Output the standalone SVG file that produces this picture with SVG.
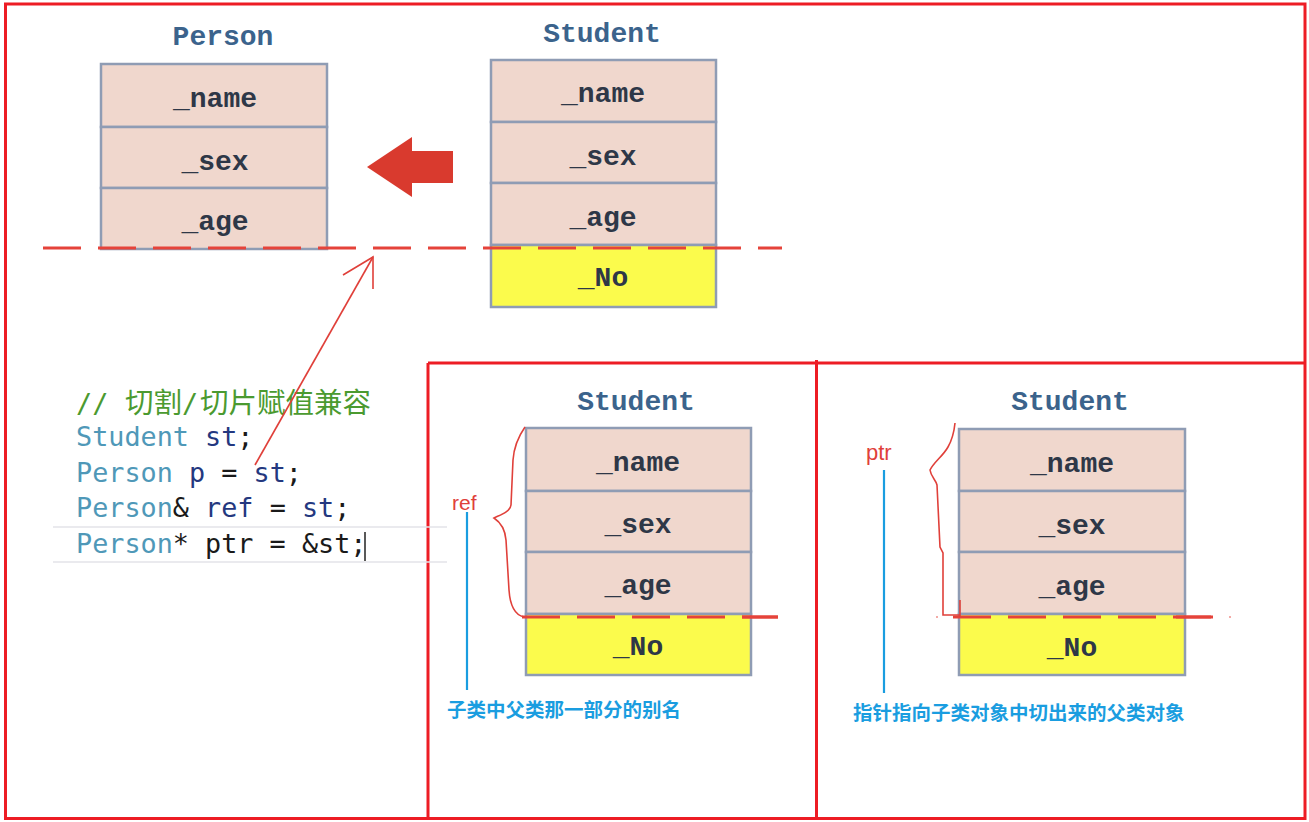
<svg xmlns="http://www.w3.org/2000/svg" width="1309" height="822" viewBox="0 0 1309 822">
<style>
.frame{fill:none;stroke:#ed1c24;stroke-width:3}
.cell{fill:#f0d7cd;stroke:#8f9cb4;stroke-width:2.5}
.extra{fill:#fbfb4c;stroke:#8f9cb4;stroke-width:2.5}
.fld{font-family:"Liberation Mono",monospace;font-weight:bold;font-size:28px;fill:#2e3747;text-anchor:middle}
.ttl{font-family:"Liberation Mono",monospace;font-weight:bold;font-size:28px;fill:#3b638c;text-anchor:middle}
.cut{fill:none;stroke:#e5433a;stroke-width:3;stroke-dasharray:38 17}
.code{font-family:"DejaVu Sans Mono",monospace;font-size:26.8px;fill:#1a1a1a}
.ty{fill:#4f98b8}
.var{fill:#24387f}
.cm{fill:#4b9a30}
.cjk{font-family:"Noto Sans CJK SC",sans-serif}
.hand{fill:none;stroke:#e0403a;stroke-width:1.6}
.blue{stroke:#1a9de0;stroke-width:2.2}
.note{font-family:"Noto Sans CJK SC",sans-serif;font-weight:bold;font-size:19.5px;fill:#1a9de0}
.lbl{font-family:"Liberation Sans","Noto Sans",sans-serif;fill:#e0403a}
</style>
<rect width="1309" height="822" fill="#ffffff"/>

<g id="frames">
<rect class="frame" x="5.5" y="4" width="1299.5" height="814.5"/>
<line class="frame" x1="428" y1="363" x2="1305" y2="363"/>
<line class="frame" x1="428" y1="363" x2="428" y2="818.5"/>
<line class="frame" x1="816.5" y1="360" x2="816.5" y2="818.5"/>
</g>

<g id="person">
<text class="ttl" x="223" y="45">Person</text>
<rect class="cell" x="101" y="64" width="226" height="63"/>
<rect class="cell" x="101" y="127" width="226" height="61"/>
<rect class="cell" x="101" y="188" width="226" height="61"/>
<text class="fld" x="215" y="107">_name</text>
<text class="fld" x="215" y="170">_sex</text>
<text class="fld" x="215" y="230">_age</text>
</g>

<g id="student-top">
<text class="ttl" x="602" y="42">Student</text>
<rect class="cell" x="491" y="60" width="225" height="62"/>
<rect class="cell" x="491" y="122" width="225" height="61"/>
<rect class="cell" x="491" y="183" width="225" height="62"/>
<rect class="extra" x="491" y="245" width="225" height="62"/>
<text class="fld" x="603" y="102">_name</text>
<text class="fld" x="603" y="165">_sex</text>
<text class="fld" x="603" y="226">_age</text>
<text class="fld" x="603" y="286">_No</text>
</g>

<g id="student-ref">
<text class="ttl" x="636" y="410">Student</text>
<rect class="cell" x="526" y="428" width="225" height="63"/>
<rect class="cell" x="526" y="491" width="225" height="61"/>
<rect class="cell" x="526" y="552" width="225" height="62"/>
<rect class="extra" x="526" y="614" width="225" height="61"/>
<text class="fld" x="638" y="471">_name</text>
<text class="fld" x="638" y="533">_sex</text>
<text class="fld" x="638" y="594">_age</text>
<text class="fld" x="638" y="655">_No</text>
</g>

<g id="student-ptr">
<text class="ttl" x="1070" y="410">Student</text>
<rect class="cell" x="959" y="429" width="226" height="62"/>
<rect class="cell" x="959" y="491" width="226" height="61"/>
<rect class="cell" x="959" y="552" width="226" height="62"/>
<rect class="extra" x="959" y="614" width="226" height="61"/>
<text class="fld" x="1072" y="472">_name</text>
<text class="fld" x="1072" y="534">_sex</text>
<text class="fld" x="1072" y="595">_age</text>
<text class="fld" x="1072" y="656">_No</text>
</g>

<g id="code">
<line x1="53" y1="527" x2="447" y2="527" stroke="#e3e3e8" stroke-width="1.5"/>
<line x1="53" y1="562" x2="447" y2="562" stroke="#e3e3e8" stroke-width="1.5"/>
<text class="code cm" x="76" y="413">//<tspan class="cjk" x="125" font-size="28.5">切割</tspan><tspan x="182">/</tspan><tspan class="cjk" x="200" font-size="28.5">切片赋值兼容</tspan></text>
<text class="code" x="76" y="446"><tspan class="ty">Student</tspan> <tspan class="var">st</tspan>;</text>
<text class="code" x="76" y="482"><tspan class="ty">Person</tspan> <tspan class="var">p</tspan> = <tspan class="var">st</tspan>;</text>
<text class="code" x="76" y="517"><tspan class="ty">Person</tspan>&amp; <tspan class="var">ref</tspan> = <tspan class="var">st</tspan>;</text>
<text class="code" x="76" y="553"><tspan class="ty">Person</tspan>* ptr = &amp;st;</text>
<line x1="365" y1="532" x2="365" y2="561" stroke="#222" stroke-width="1.5"/>
</g>

<g id="connectors">
<polygon points="367,167 412,137 412,151 453,151 453,183 412,183 412,197" fill="#d93a2e"/>
<line class="cut" x1="43" y1="248" x2="782" y2="248"/>
<line class="cut" x1="522" y1="617" x2="778" y2="617" stroke-dasharray="37 18"/>
<line class="cut" x1="953" y1="617" x2="1213" y2="617" stroke-dasharray="39 16"/>
<line x1="1176" y1="617" x2="1213" y2="617" stroke="#e5433a" stroke-width="3"/>
<line x1="742" y1="617" x2="778" y2="617" stroke="#e5433a" stroke-width="3"/>
<circle cx="937" cy="617" r="1" fill="#e5433a" opacity="0.6"/>
<circle cx="1230" cy="617" r="1" fill="#e5433a" opacity="0.6"/>
<polyline class="hand" points="255,465 373,257"/>
<polyline class="hand" points="343,275 373,257 373,289"/>
<path class="hand" d="M525,427 C518,437 514,446 513,460 L511,505 C510,512 500,515 494,518 C500,522 505,528 506,540 L509,590 C510,605 515,615 524,617"/>
<path class="hand" d="M955,423 C954,433 952,440 948,447 C943,456 934,462 930,470 C931,477 936,480 937,485 L940,547 L943,553 L943,615 L960,615"/>
<line class="hand" x1="960" y1="600" x2="960" y2="617"/>
<line class="blue" x1="467" y1="512" x2="467" y2="690"/>
<line class="blue" x1="884" y1="470" x2="884" y2="693"/>
</g>

<g id="labels">
<text class="lbl" x="452" y="510" font-size="21">ref</text>
<text class="lbl" x="866" y="460" font-size="22">ptr</text>
<text class="note" x="447" y="717">子类中父类那一部分的别名</text>
<text class="note" x="853" y="720">指针指向子类对象中切出来的父类对象</text>
</g>
</svg>
